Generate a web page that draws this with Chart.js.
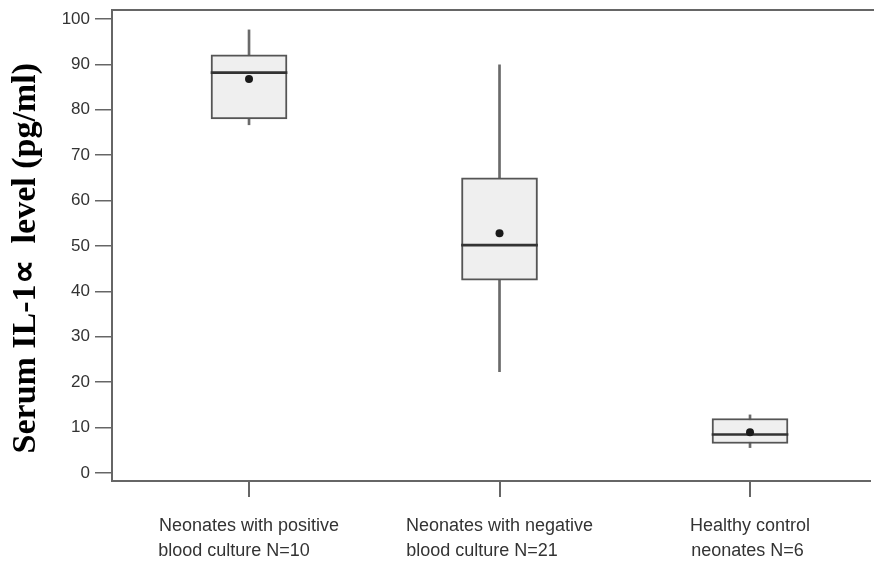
<!DOCTYPE html>
<html><head><meta charset="utf-8">
<script src="https://cdn.jsdelivr.net/npm/chart.js@4"></script>
<style>html,body{margin:0;padding:0;background:#fff;overflow:hidden}</style>
</head>
<body>
<canvas id="c" width="874" height="561"></canvas>
<script>
const categories = [
  ["Neonates with positive", "blood culture N=10"],
  ["Neonates with negative", "blood culture N=21"],
  ["Healthy control", "neonates N=6"]
];
const positions = [1, 2, 3];
const minVals = [76.7, 22.3, 5.6];
const q1Vals = [78.0, 42.5, 6.5];
const medianVals = [88.4, 50.4, 8.7];
const q3Vals = [92.1, 65.0, 12.0];
const maxVals = [97.6, 89.9, 12.8];
const meanVals = [86.8, 52.8, 9.0];
const yTicks = [0, 10, 20, 30, 40, 50, 60, 70, 80, 90, 100];
const yTitle = "Serum IL-1\u221D  level (pg/ml)";

const X_MIN = 0.453, X_MAX = 3.479;
const Y_MIN = -1.76, Y_MAX = 101.98;

const tickFamily = '"Liberation Sans", Arial, sans-serif';
const xFontSize = 18;
const mctx = document.createElement('canvas').getContext('2d');
mctx.font = xFontSize + 'px ' + tickFamily;
function padLines(lines) {
  const w = lines.map(l => mctx.measureText(l).width);
  const maxW = Math.max(...w);
  const sw = mctx.measureText(' ').width;
  return lines.map((l, i) => l + ' '.repeat(Math.round((maxW - w[i]) / sw)));
}

const topFrame = {
  id: 'topFrame',
  afterDraw(chart) {
    const { ctx, chartArea } = chart;
    ctx.save();
    ctx.strokeStyle = '#666';
    ctx.lineWidth = 2;
    ctx.beginPath();
    ctx.moveTo(chartArea.left, chartArea.top);
    ctx.lineTo(chart.width, chartArea.top);
    ctx.stroke();
    ctx.restore();
  }
};

new Chart(document.getElementById('c'), {
  type: 'bar',
  plugins: [topFrame],
  data: {
    datasets: [
      {
        data: positions.map((p, i) => ({ x: p, y: [minVals[i], maxVals[i]] })),
        backgroundColor: '#6a6a6a',
        borderWidth: 0,
        barThickness: 2,
        grouped: false,
        order: 4
      },
      {
        data: positions.map((p, i) => ({ x: p, y: [q1Vals[i], q3Vals[i]] })),
        backgroundColor: '#efefef',
        borderColor: '#555',
        borderWidth: 2,
        borderSkipped: false,
        barThickness: 76,
        grouped: false,
        order: 3
      },
      {
        data: positions.map((p, i) => ({ x: p, y: [medianVals[i], medianVals[i]] })),
        backgroundColor: '#333',
        borderWidth: 0,
        minBarLength: 2,
        barThickness: 76,
        grouped: false,
        order: 2
      },
      {
        type: 'scatter',
        data: positions.map((p, i) => ({ x: p, y: meanVals[i] })),
        pointStyle: 'circle',
        pointRadius: 4,
        backgroundColor: '#1a1a1a',
        borderColor: '#1a1a1a',
        borderWidth: 0,
        order: 1
      }
    ]
  },
  options: {
    responsive: false,
    animation: false,
    devicePixelRatio: 1,
    layout: { padding: { top: 10, left: 0, right: 0, bottom: 0 } },
    plugins: { legend: { display: false }, tooltip: { enabled: false } },
    scales: {
      x: {
        type: 'linear',
        offset: false,
        min: X_MIN, max: X_MAX,
        afterFit(s) { s.height = 80; s.paddingLeft = 0; s.paddingRight = 0; },
        afterBuildTicks(s) { s.ticks = positions.map(v => ({ value: v })); },
        ticks: {
          autoSkip: false, maxRotation: 0,
          callback: (v, i) => padLines(categories[i]),
          font: { family: tickFamily, size: xFontSize, lineHeight: 1.38 },
          color: '#333',
          padding: 17
        },
        grid: { offset: false, drawOnChartArea: false, drawTicks: true, tickLength: 16, color: '#666', lineWidth: 2 },
        border: { color: '#666', width: 2 }
      },
      y: {
        type: 'linear',
        min: Y_MIN, max: Y_MAX,
        afterFit(s) { s.width = 112; s.paddingTop = 0; s.paddingBottom = 0; },
        afterBuildTicks(s) { s.ticks = yTicks.map(v => ({ value: v })); },
        ticks: { font: { family: tickFamily, size: 17 }, color: '#333', padding: 5 },
        grid: { drawOnChartArea: false, tickLength: 17, color: '#666', lineWidth: 1.5 },
        border: { color: '#666', width: 2 },
        title: {
          display: true, text: yTitle + '   ', color: '#000',
          font: { family: '"Liberation Serif", "Times New Roman", serif', size: 34, weight: 'bold' },
          padding: { top: 6, bottom: 0 }
        }
      }
    }
  }
});
</script>
</body></html>
